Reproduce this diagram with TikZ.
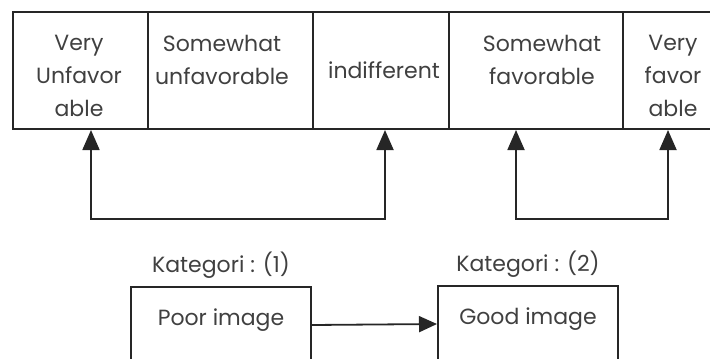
\documentclass[tikz,border=0pt]{standalone}
\usepackage{fontspec}
\setmainfont{Poppins}
\usetikzlibrary{arrows.meta}
\usetikzlibrary{positioning}

\begin{document}
\begin{tikzpicture}[x=0.5pt, y=-0.5pt,
    cell/.style={draw=black!85, line width=1pt, minimum height=58.5pt, inner sep=0pt, anchor=north west},
    lbl/.style={inner sep=0pt, align=center, text=black!75, font=\fontsize{11}{16.5}\selectfont},
    imgbox/.style={draw=black!85, line width=1pt, minimum width=90pt, inner sep=0pt, text height=19pt, text depth=40pt, anchor=north, text=black!75, font=\fontsize{11}{16.5}\selectfont},
    tips/.style={draw=black!85, line width=0.9pt, {Triangle[length=10pt,width=8.5pt]}-{Triangle[length=10pt,width=8.5pt]}},
    tip/.style={draw=black!85, line width=0.9pt, -{Triangle[length=9pt,width=8pt]}}]
    \useasboundingbox (0,0) rectangle (710,358);

    % Skala
    \node[cell, minimum width=67.5pt] (vu) at (12,11) {};
    \node[cell, minimum width=82.5pt] (su) at (147,11) {};
    \node[cell, minimum width=68pt] (ind) at (312,11) {};
    \node[cell, minimum width=87pt] (sf) at (448,11) {};
    \node[cell, minimum width=51pt] (vf) at (622,11) {};

    % Teks skala
    \node[lbl] (tvu) at (79,76) {Very\\Unfavor\\able};
    \node[lbl] (tsu) at (222,60) {Somewhat\\unfavorable};
    \node[lbl] (tind) at (384,70) {indifferent};
    \node[lbl] (tsf) at (542,60) {Somewhat\\favorable};
    \node[lbl] (tvf) at (673,76) {Very\\favor\\able};

    % Panah kategori
    \coordinate (p1) at (91,219);
    \coordinate (p2) at (385,219);
    \coordinate (p3) at (516,219);
    \coordinate (p4) at (668,219);
    \draw[tips] (p1 |- vu.south) -- (p1) -- (p2) -- (p2 |- ind.south);
    \draw[tips] (p3 |- sf.south) -- (p3) -- (p4) -- (p4 |- vf.south);

    % Kategori
    \node[imgbox] (poor) at (221,286) {Poor image};
    \node[imgbox] (good) at (528,285) {Good image};
    \node[lbl, above=3.5pt of poor] (k1) {Kategori : (1)};
    \node[lbl, above=3.5pt of good] (k2) {Kategori : (2)};
    \draw[tip] (poor.base east) -- (good.base west);

\end{tikzpicture}
\end{document}
